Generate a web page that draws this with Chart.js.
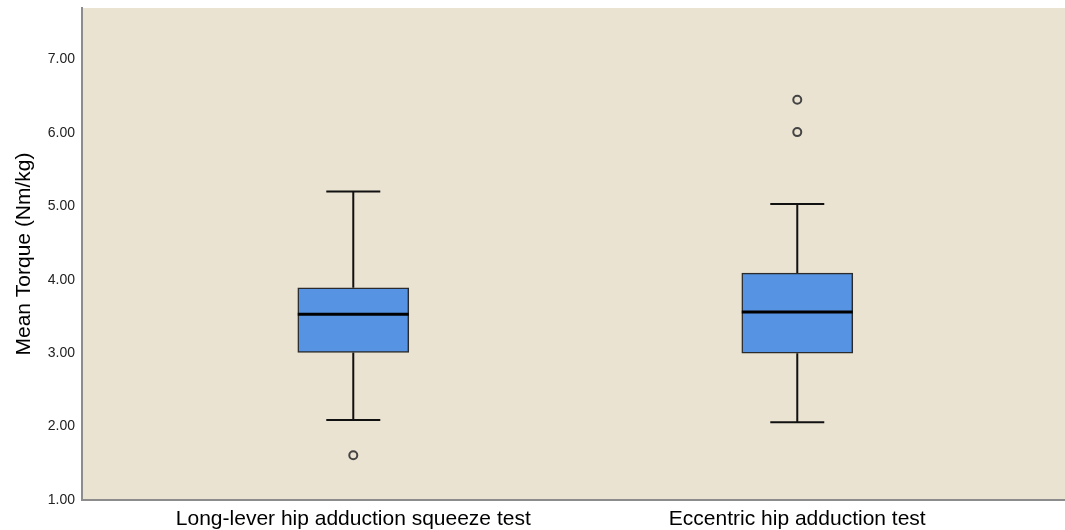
<!DOCTYPE html>
<html>
<head>
<meta charset="utf-8">
<script src="https://cdn.jsdelivr.net/npm/chart.js@4.4.1/dist/chart.umd.min.js"></script>
<style>
  html, body { margin: 0; padding: 0; background: #ffffff; }
  #wrap { width: 1065px; height: 530px; position: relative; }
</style>
</head>
<body>
<div id="wrap"><canvas id="chart"></canvas></div>
<script>
// categories + five-number summaries
const categories = ['Long-lever hip adduction squeeze test', 'Eccentric hip adduction test'];
const whiskerLow = [2.09, 2.06];
const q1 = [3.01, 3.00];
const median = [3.53, 3.56];
const q3 = [3.89, 4.09];
const whiskerHigh = [5.20, 5.03];
const outliers = [[1.61], [6.01, 6.45]];
const yTicks = [1, 2, 3, 4, 5, 6, 7];

const boxData = categories.map((c, i) => ({ x: i + 1, y: [q1[i], q3[i]] }));
const outlierData = [];
outliers.forEach((arr, i) => arr.forEach(v => outlierData.push({ x: i + 1, y: v })));

// beige plot background
const plotBg = {
    id: 'plotBg',
    beforeDraw(chart) {
        const a = chart.chartArea;
        const ctx = chart.ctx;
        ctx.save();
        ctx.fillStyle = '#ebe3d2';
        ctx.fillRect(a.left, a.top, a.right - a.left + 2, a.bottom - a.top);
        ctx.restore();
    }
};

// whiskers and medians, positioned through the chart scales
const boxExtras = {
    id: 'boxExtras',
    beforeDatasetsDraw(chart) {
        const xs = chart.scales.x, ys = chart.scales.y, ctx = chart.ctx;
        ctx.save();
        ctx.strokeStyle = '#111';
        ctx.lineWidth = 2;
        categories.forEach((c, i) => {
            const cx = xs.getPixelForValue(i + 1);
            const half = 27;
            ctx.beginPath();
            ctx.moveTo(cx, ys.getPixelForValue(q3[i]));
            ctx.lineTo(cx, ys.getPixelForValue(whiskerHigh[i]));
            ctx.moveTo(cx, ys.getPixelForValue(q1[i]));
            ctx.lineTo(cx, ys.getPixelForValue(whiskerLow[i]));
            ctx.moveTo(cx - half, ys.getPixelForValue(whiskerHigh[i]));
            ctx.lineTo(cx + half, ys.getPixelForValue(whiskerHigh[i]));
            ctx.moveTo(cx - half, ys.getPixelForValue(whiskerLow[i]));
            ctx.lineTo(cx + half, ys.getPixelForValue(whiskerLow[i]));
            ctx.stroke();
        });
        ctx.restore();
    },
    afterDatasetsDraw(chart) {
        const ys = chart.scales.y, ctx = chart.ctx;
        const bars = chart.getDatasetMeta(0).data;
        ctx.save();
        ctx.strokeStyle = '#000';
        ctx.lineWidth = 3;
        categories.forEach((c, i) => {
            const b = bars[i];
            const y = ys.getPixelForValue(median[i]);
            ctx.beginPath();
            ctx.moveTo(b.x - b.width / 2, y);
            ctx.lineTo(b.x + b.width / 2, y);
            ctx.stroke();
        });
        ctx.restore();
    }
};

function noPad(scale) {
    scale.paddingTop = 0;
    scale.paddingBottom = 0;
    scale.paddingLeft = 0;
    scale.paddingRight = 0;
}

const ctx = document.getElementById('chart').getContext('2d');
new Chart(ctx, {
    type: 'bar',
    data: {
        datasets: [{
            type: 'bar',
            data: boxData,
            backgroundColor: '#5693e2',
            borderColor: '#2b2b2b',
            borderWidth: 1.5,
            borderSkipped: false,
            barThickness: 111,
            order: 2
        }, {
            type: 'scatter',
            data: outlierData,
            pointStyle: 'circle',
            pointRadius: 4,
            pointBackgroundColor: 'rgba(0,0,0,0)',
            pointBorderColor: '#444',
            pointBorderWidth: 2,
            order: 1
        }]
    },
    options: {
        responsive: true,
        maintainAspectRatio: false,
        animation: false,
        layout: { autoPadding: false, padding: { top: 8, right: 0, left: 0, bottom: 0 } },
        plugins: {
            legend: { display: false },
            tooltip: { enabled: false }
        },
        scales: {
            x: {
                type: 'linear',
                offset: false,
                min: 0.389,
                max: 2.603,
                grid: { display: false, drawTicks: false },
                border: { display: true, color: '#8c8c8c', width: 2 },
                afterBuildTicks(scale) {
                    scale.ticks = categories.map((c, i) => ({ value: i + 1 }));
                },
                afterFit(scale) { scale.height = 30; noPad(scale); },
                ticks: {
                    autoSkip: false,
                    maxRotation: 0,
                    padding: 7,
                    color: '#000',
                    font: { family: 'Liberation Sans, Arial', size: 21 },
                    callback: (v) => categories[v - 1]
                }
            },
            y: {
                min: 1,
                max: 7.7,
                grid: { display: false, drawTicks: false },
                border: { display: true, color: '#8c8c8c', width: 2 },
                afterBuildTicks(scale) {
                    scale.ticks = yTicks.map(v => ({ value: v }));
                },
                afterFit(scale) { scale.width = 82; noPad(scale); },
                ticks: {
                    padding: 7,
                    color: '#222',
                    font: { family: 'Liberation Sans, Arial', size: 14 },
                    callback: (v) => v.toFixed(2)
                },
                title: {
                    display: true,
                    text: 'Mean Torque (Nm/kg)',
                    color: '#000',
                    padding: { top: 12, bottom: 0 },
                    font: { family: 'Liberation Sans, Arial', size: 21 }
                }
            }
        }
    },
    plugins: [plotBg, boxExtras]
});
</script>
</body>
</html>
